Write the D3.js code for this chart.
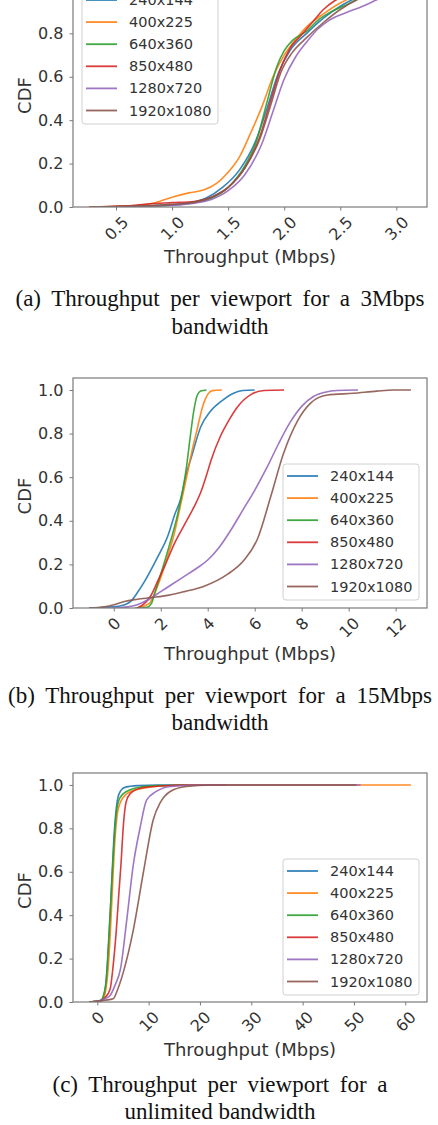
<!DOCTYPE html>
<html>
<head>
<meta charset="utf-8">
<script src="https://cdn.jsdelivr.net/npm/d3@7"></script>
<style>
  body { margin: 0; background: #fff; }
  svg { display: block; }
</style>
</head>
<body>
<svg id="chart" width="438" height="1125"></svg>
<script>
// Series labels + matplotlib tab10 colours
const LABELS = ['240x144', '400x225', '640x360', '850x480', '1280x720', '1920x1080'];
const COLORS = ['#1f77b4', '#ff7f0e', '#2ca02c', '#d62728', '#9467bd', '#8c564b'];
const Y_TICKS = [0, 0.2, 0.4, 0.6, 0.8, 1.0];

// ── (a) 3Mbps bandwidth — [throughput Mbps, CDF] ──
const bw3_240 = [[0.26,0],[0.6,0.003],[0.9,0.008],[1.1,0.015],[1.3,0.04],[1.45,0.09],[1.6,0.17],[1.75,0.31],[1.85,0.46],[1.95,0.62],[2.05,0.72],[2.2,0.8],[2.35,0.87],[2.5,0.925],[2.65,0.965],[2.8,0.99],[2.95,1.0]];
const bw3_400 = [[0.26,0],[0.5,0.003],[0.7,0.008],[0.85,0.02],[1.0,0.045],[1.15,0.065],[1.28,0.078],[1.4,0.11],[1.5,0.16],[1.6,0.23],[1.7,0.34],[1.8,0.46],[1.9,0.6],[2.0,0.7],[2.1,0.77],[2.2,0.83],[2.35,0.89],[2.5,0.94],[2.65,0.975],[2.8,1.0]];
const bw3_640 = [[0.3,0],[0.7,0.003],[1.0,0.01],[1.2,0.02],[1.35,0.04],[1.5,0.09],[1.65,0.19],[1.75,0.3],[1.85,0.49],[1.93,0.64],[2.0,0.72],[2.08,0.77],[2.2,0.81],[2.3,0.86],[2.42,0.9],[2.55,0.93],[2.7,0.97],[2.85,1.0]];
const bw3_850 = [[0.26,0],[0.6,0.005],[0.8,0.015],[1.0,0.02],[1.2,0.025],[1.35,0.045],[1.5,0.09],[1.65,0.18],[1.78,0.32],[1.88,0.49],[1.97,0.64],[2.05,0.73],[2.15,0.79],[2.25,0.85],[2.35,0.91],[2.45,0.95],[2.6,0.985],[2.75,1.0]];
const bw3_1280 = [[0.3,0],[0.7,0.003],[1.0,0.008],[1.2,0.018],[1.35,0.035],[1.5,0.075],[1.65,0.15],[1.8,0.29],[1.9,0.44],[2.0,0.59],[2.1,0.69],[2.2,0.76],[2.3,0.82],[2.4,0.86],[2.55,0.895],[2.7,0.925],[2.85,0.96],[3.0,0.99],[3.13,1.0]];
const bw3_1920 = [[0.3,0],[0.7,0.004],[1.0,0.012],[1.2,0.022],[1.35,0.045],[1.5,0.09],[1.65,0.18],[1.78,0.31],[1.88,0.47],[1.97,0.62],[2.07,0.71],[2.2,0.78],[2.35,0.85],[2.5,0.91],[2.65,0.955],[2.8,0.985],[2.95,1.0]];

// ── (b) 15Mbps bandwidth ──
const bw15_240 = [[-1.05,0],[-0.3,0.003],[0.3,0.01],[0.72,0.03],[1.0,0.07],[1.3,0.12],[1.85,0.23],[2.3,0.33],[2.6,0.43],[2.85,0.5],[3.1,0.62],[3.3,0.69],[3.7,0.83],[4.1,0.9],[4.6,0.95],[5.1,0.985],[5.5,0.998],[6.0,1.0]];
const bw15_400 = [[1.0,0],[1.5,0.02],[1.75,0.07],[2.0,0.14],[2.3,0.24],[2.55,0.33],[2.8,0.45],[3.1,0.6],[3.35,0.73],[3.55,0.82],[3.8,0.93],[4.0,0.98],[4.2,0.997],[4.6,1.0]];
const bw15_640 = [[0.9,0],[1.4,0.003],[1.6,0.02],[1.75,0.07],[2.1,0.19],[2.4,0.3],[2.7,0.42],[2.95,0.55],[3.1,0.65],[3.25,0.78],[3.4,0.9],[3.55,0.975],[3.7,0.995],[3.95,1.0]];
const bw15_850 = [[1.0,0],[1.3,0.02],[1.57,0.055],[1.9,0.13],[2.2,0.2],[2.6,0.3],[3.0,0.38],[3.4,0.46],[3.7,0.53],[3.95,0.61],[4.15,0.68],[4.55,0.79],[4.95,0.87],[5.25,0.92],[5.85,0.98],[6.4,0.998],[7.25,1.0]];
const bw15_1280 = [[-0.1,0],[0.6,0.005],[1.0,0.015],[1.5,0.04],[2.0,0.075],[2.5,0.11],[3.0,0.145],[3.5,0.18],[4.0,0.22],[4.5,0.28],[5.0,0.36],[5.5,0.45],[6.0,0.54],[6.5,0.64],[7.0,0.75],[7.5,0.85],[8.0,0.925],[8.5,0.97],[9.0,0.99],[9.5,0.998],[10.4,1.0]];
const bw15_1920 = [[-1.05,0],[-0.4,0.005],[0,0.015],[0.45,0.03],[1.0,0.04],[1.6,0.048],[2.3,0.058],[3.0,0.075],[3.85,0.1],[4.85,0.155],[5.55,0.22],[6.13,0.32],[6.68,0.51],[7.23,0.71],[7.83,0.86],[8.38,0.94],[9.1,0.977],[10.2,0.985],[11.2,0.995],[11.9,1.0],[12.65,1.0]];

// ── (c) unlimited bandwidth ──
const bwU_240 = [[-1.6,0],[0,0.003],[0.8,0.01],[1.4,0.04],[1.8,0.12],[2.3,0.3],[2.8,0.55],[3.2,0.74],[3.6,0.87],[4.0,0.94],[4.6,0.975],[5.5,0.99],[8,0.997],[12,1.0],[17,1.0]];
const bwU_400 = [[-1.6,0],[0,0.003],[1.0,0.01],[1.6,0.05],[2.1,0.15],[2.6,0.35],[3.1,0.6],[3.5,0.77],[4.0,0.88],[4.5,0.92],[5.5,0.955],[6.5,0.97],[9,0.985],[12.3,0.995],[20,1.0],[61.1,1.0]];
const bwU_640 = [[-1.6,0],[0,0.003],[0.8,0.01],[1.3,0.04],[1.75,0.1],[2.2,0.28],[2.6,0.45],[3.1,0.67],[3.7,0.87],[4.4,0.94],[5.7,0.97],[8.4,0.99],[12,0.997],[20,1.0]];
const bwU_850 = [[-1.6,0],[0.5,0.005],[1.5,0.02],[2.5,0.06],[3.1,0.17],[3.7,0.33],[4.2,0.5],[4.6,0.63],[5.1,0.82],[5.6,0.92],[6.4,0.96],[8.4,0.985],[12.3,0.995],[18,1.0],[25,1.0]];
const bwU_1280 = [[-1.6,0],[0.5,0.005],[1.5,0.015],[2.5,0.03],[3.5,0.08],[4.5,0.15],[5.7,0.37],[7.0,0.63],[8.4,0.81],[9.6,0.93],[11.5,0.97],[14.2,0.993],[20,1.0],[51.3,1.0]];
const bwU_1920 = [[-1.6,0],[0.5,0.004],[1.5,0.008],[3.1,0.015],[4,0.06],[5.1,0.14],[7.0,0.33],[9.0,0.6],[10.9,0.84],[12.3,0.92],[14.2,0.97],[17.3,0.993],[22,1.0],[50.5,1.0]];

const X_TICKS_3 = [0.5, 1.0, 1.5, 2.0, 2.5, 3.0];
const X_TICKS_15 = [0, 2, 4, 6, 8, 10, 12];
const X_TICKS_U = [0, 10, 20, 30, 40, 50, 60];

const CAPTION_3 = ['(a) Throughput per viewport for a 3Mbps', 'bandwidth'];
const CAPTION_15 = ['(b) Throughput per viewport for a 15Mbps', 'bandwidth'];
const CAPTION_U = ['(c) Throughput per viewport for a', 'unlimited bandwidth'];

// Layout per panel (pixels)
const PANELS = [
  { series: [bw3_240, bw3_400, bw3_640, bw3_850, bw3_1280, bw3_1920], ticks: X_TICKS_3, fmt: '.1f',
    top: -22, bottom: 207, legend: [82, -12], xLabelY: 257, caption: CAPTION_3, capY: [306, 334], capW: [409, 0] },
  { series: [bw15_240, bw15_400, bw15_640, bw15_850, bw15_1280, bw15_1920], ticks: X_TICKS_15, fmt: 'd',
    top: 378, bottom: 608, legend: [283, 464], xLabelY: 654, caption: CAPTION_15, capY: [703, 730], capW: [424, 0] },
  { series: [bwU_240, bwU_400, bwU_640, bwU_850, bwU_1280, bwU_1920], ticks: X_TICKS_U, fmt: 'd',
    top: 773, bottom: 1002, legend: [283, 859], xLabelY: 1050, caption: CAPTION_U, capY: [1092, 1119], capW: [335, 0] }
];

const L = 73, R = 427;
const TXT = '#333';
const SPINE = '#7a7a7a';
const SANS = 'DejaVu Sans, sans-serif';
const TICK_FS = 16;

const svg = d3.select('#chart');

PANELS.forEach((p, pi) => {
  const ext = d3.extent(p.series.flat(), d => d[0]);
  const pad = (ext[1] - ext[0]) * 0.05;
  const x = d3.scaleLinear().domain([ext[0] - pad, ext[1] + pad]).range([L, R]);
  const y = d3.scaleLinear().domain([0, 1.055]).range([p.bottom, p.top]);
  const g = svg.append('g');

  svg.append('clipPath').attr('id', 'clip' + pi)
    .append('rect').attr('x', L).attr('y', p.top).attr('width', R - L).attr('height', p.bottom - p.top);

  // Curves
  const line = d3.line().x(d => x(d[0])).y(d => y(d[1])).curve(d3.curveMonotoneX);
  g.append('g').attr('clip-path', `url(#clip${pi})`)
    .selectAll('path').data(p.series).join('path')
    .attr('d', line)
    .attr('fill', 'none')
    .attr('stroke', (d, i) => COLORS[i])
    .attr('stroke-width', 1.6)
    .attr('stroke-opacity', 0.9);

  // Frame
  g.append('rect')
    .attr('x', L).attr('y', p.top).attr('width', R - L).attr('height', p.bottom - p.top)
    .attr('fill', 'none').attr('stroke', SPINE).attr('stroke-width', 1.2);

  // Y axis (ticks outside the visible area are skipped)
  const ya = g.append('g').attr('transform', `translate(${L},0)`)
    .call(d3.axisLeft(y).tickValues(Y_TICKS.filter(v => y(v) > 0)).tickFormat(d3.format('.1f')).tickSize(3.5).tickPadding(6));
  ya.select('.domain').remove();
  ya.selectAll('.tick line').attr('stroke', SPINE);
  ya.selectAll('.tick text').attr('fill', TXT).attr('font-size', TICK_FS).attr('font-family', SANS);

  // X axis, labels rotated 45°
  const xa = g.append('g').attr('transform', `translate(0,${p.bottom})`)
    .call(d3.axisBottom(x).tickValues(p.ticks).tickFormat(d3.format(p.fmt)).tickSize(3.5));
  xa.select('.domain').remove();
  xa.selectAll('.tick line').attr('stroke', SPINE);
  xa.selectAll('.tick text')
    .attr('fill', TXT).attr('font-size', TICK_FS).attr('font-family', SANS)
    .attr('y', 0).attr('dy', '0.35em').attr('text-anchor', 'middle')
    .each(function() {
      const w = this.getComputedTextLength();
      const half = (w + TICK_FS * 0.95) / Math.SQRT2 / 2;
      d3.select(this).attr('transform', `translate(0,${7 + half}) rotate(-45)`);
    });

  // Axis labels
  g.append('text')
    .attr('x', (L + R) / 2).attr('y', p.xLabelY).attr('dy', '0.35em')
    .attr('text-anchor', 'middle').attr('font-family', SANS).attr('font-size', 18).attr('fill', TXT)
    .text('Throughput (Mbps)');
  g.append('text')
    .attr('transform', `translate(25,${(p.top + p.bottom) / 2 + 3}) rotate(-90)`)
    .attr('dy', '0.35em')
    .attr('text-anchor', 'middle').attr('font-family', SANS).attr('font-size', 18).attr('fill', TXT)
    .text('CDF');

  // Legend
  const lg = g.append('g').attr('transform', `translate(${p.legend[0]},${p.legend[1]})`);
  lg.append('rect')
    .attr('width', 136).attr('height', 136).attr('rx', 3)
    .attr('fill', '#fff').attr('fill-opacity', 0.8)
    .attr('stroke', '#d0d0d0').attr('stroke-width', 1);
  const rows = lg.selectAll('g.row').data(LABELS).join('g')
    .attr('transform', (d, i) => `translate(0,${12 + i * 22.1})`);
  rows.append('line')
    .attr('x1', 4).attr('x2', 35)
    .attr('stroke', (d, i) => COLORS[i]).attr('stroke-width', 1.8).attr('stroke-opacity', 0.9);
  rows.append('text')
    .attr('x', 47).attr('dy', '0.35em')
    .attr('font-family', SANS).attr('font-size', 14.5).attr('fill', TXT)
    .text(d => d);

  // Caption (first line justified to its measured width)
  p.caption.forEach((t, li) => {
    const el = svg.append('text')
      .attr('x', 220).attr('y', p.capY[li])
      .attr('text-anchor', 'middle')
      .attr('font-family', 'Liberation Serif, Times New Roman, serif')
      .attr('font-size', 23).attr('fill', '#111')
      .text(t);
    if (p.capW[li]) {
      const natural = el.node().getComputedTextLength();
      const spaces = (t.match(/ /g) || []).length;
      el.attr('word-spacing', (p.capW[li] - natural) / spaces);
    }
  });
});
</script>
</body>
</html>
